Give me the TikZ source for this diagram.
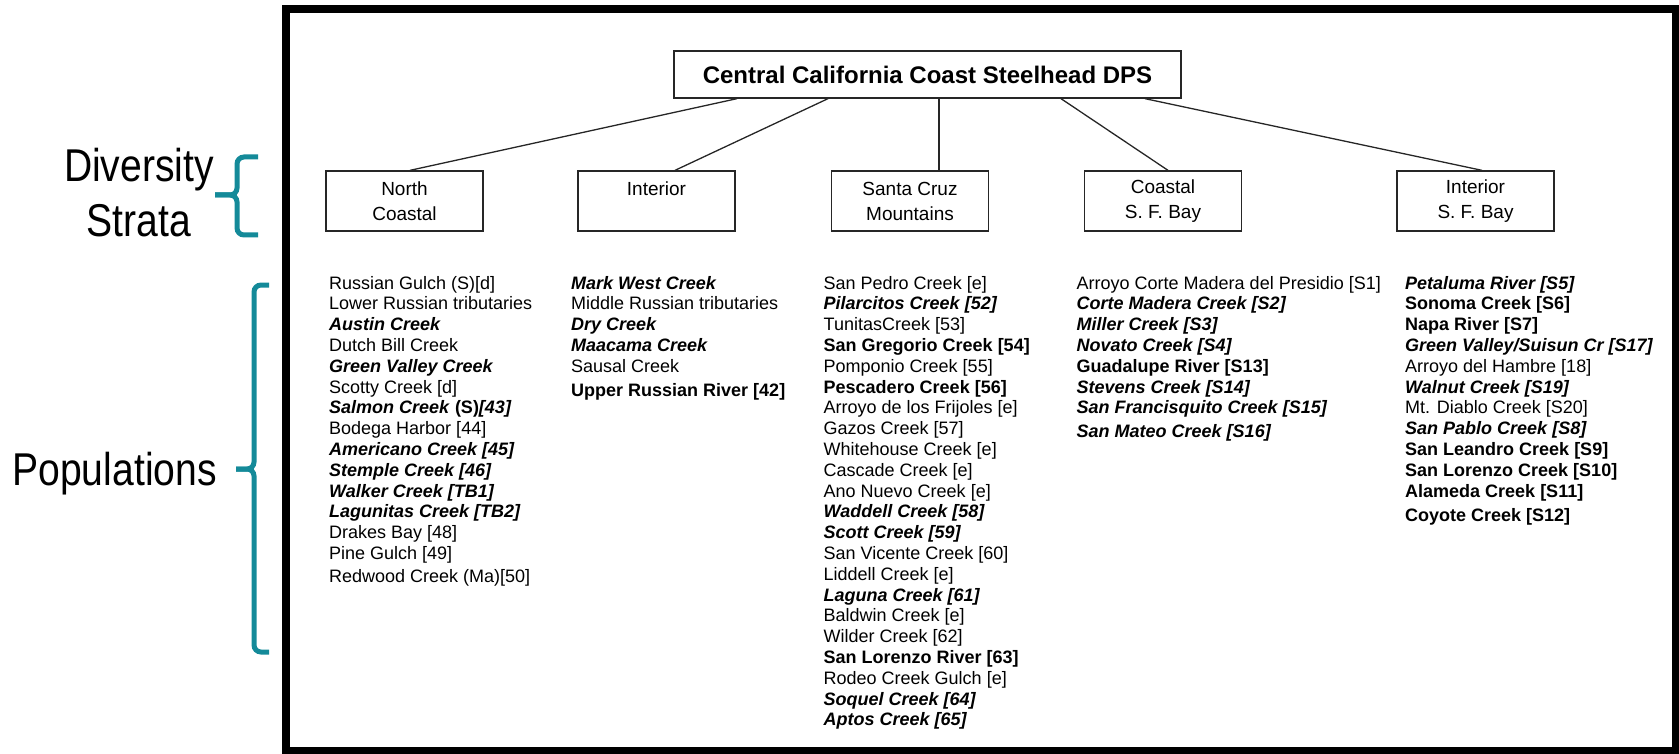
\documentclass[tikz,border=0pt]{standalone}
\usepackage{fontspec}
\setmainfont{Liberation Sans}
\newfontfamily\sidefont[FakeStretch=0.85]{Liberation Sans}
\usepackage{tikz}
\definecolor{braceTeal}{RGB}{20,138,153}
\newcommand{\bfit}[1]{\textbf{\textit{#1}}}

\begin{document}
\begin{tikzpicture}[x=1pt,y=-1pt,
		stratum/.style={draw=black!85,line width=1.3,minimum width=157,minimum height=60,inner sep=0,align=center,font=\fontsize{19}{25}\selectfont},
		link/.style={draw=black!85,line width=1.3},
		popname/.style={anchor=base west,inner sep=0,font=\fontsize{18}{20}\selectfont},
		sidelabel/.style={align=center,inner sep=0,font=\sidefont\fontsize{46}{55}\selectfont},
		tealbrace/.style={draw=braceTeal,line width=5,rounded corners=7}]
		%\draw[help lines,step=50] (0,0) grid (1679,754);
		\useasboundingbox (0,0) rectangle (1679,754);
		\draw[line width=7.5] (286,9) rectangle (1676,751);

		% the DPS and its strata
		\node[draw=black!85,line width=1.3,minimum width=507,minimum height=47,font=\fontsize{24}{28}\selectfont\bfseries] (dps) at (927.5,74.5) {Central California Coast Steelhead DPS};
		\node[stratum] (nc) at (404.5,201) {North\\Coastal};
		\node[stratum] (int) at (656.5,201) {Interior\\\mbox{}};
		\node[stratum] (scm) at (910,201) {Santa Cruz\\Mountains};
		\node[stratum] (csfb) at (1163,201) {Coastal\\S. F. Bay};
		\node[stratum] (isfb) at (1475.5,201) {Interior\\S. F. Bay};

		\draw[link] ([xshift=-190.5]dps.south) -- ([xshift=5.5]nc.north);
		\draw[link] ([xshift=-99.5]dps.south) -- ([xshift=18.5]int.north);
		\draw[link] ([xshift=11.5]dps.south) -- ([xshift=29]scm.north);
		\draw[link] ([xshift=133.5]dps.south) -- ([xshift=5]csfb.north);
		\draw[link] ([xshift=217.5]dps.south) -- ([xshift=6.5]isfb.north);

		% left labels
		\node[sidelabel] (strata) at (139,192.5) {Diversity\\Strata};
		\node[sidelabel] (pops) at (114.6,474) {Populations};
		\draw[tealbrace] (258,157) -- (237,157) -- (237,195) -- (215,195);
		\draw[tealbrace] (215,195) -- (237,195) -- (237,235) -- (258,235);
		\draw[tealbrace] (269,285) -- (254,285) -- (254,469) -- (236,469);
		\draw[tealbrace] (236,469) -- (254,469) -- (254,652) -- (269,652);

		% populations
		\foreach \p [count=\i from 0] in {{Russian Gulch (S)[d]},{Lower Russian tributaries},{\bfit{Austin Creek}},{Dutch Bill Creek},{\bfit{Green Valley Creek}},{Scotty Creek [d]},{\bfit{Salmon Creek} \textbf{(S)}\bfit{[43]}},{Bodega Harbor [44]},{\bfit{Americano Creek [45]}},{\bfit{Stemple Creek [46]}},{\bfit{Walker Creek [TB1]}},{\bfit{Lagunitas Creek [TB2]}},{Drakes Bay [48]},{Pine Gulch [49]}}
			\node[popname] (nc\i) at (329,{289+20.8*\i}) {\p};
		\node[popname] (nc14) at (329,582.5) {Redwood Creek (Ma)[50]};

		\foreach \p [count=\i from 0] in {{\bfit{Mark West Creek}},{Middle Russian tributaries},{\bfit{Dry Creek}},{\bfit{Maacama Creek}},{Sausal Creek}}
			\node[popname] (int\i) at (571,{289+20.8*\i}) {\p};
		\node[popname] (int5) at (571,396.5) {\textbf{Upper Russian River [42]}};

		\foreach \p [count=\i from 0] in {{San Pedro Creek [e]},{\bfit{Pilarcitos Creek [52]}},{TunitasCreek [53]},{\textbf{San Gregorio Creek [54]}},{Pomponio Creek [55]},{\textbf{Pescadero Creek [56]}},{Arroyo de los Frijoles [e]},{Gazos Creek [57]},{Whitehouse Creek [e]},{Cascade Creek [e]},{Ano Nuevo Creek [e]},{\bfit{Waddell Creek [58]}},{\bfit{Scott Creek [59]}},{San Vicente Creek [60]},{Liddell Creek [e]},{\bfit{Laguna Creek [61]}},{Baldwin Creek [e]},{Wilder Creek [62]},{\textbf{San Lorenzo River [63]}},{Rodeo Creek Gulch [e]},{\bfit{Soquel Creek [64]}},{\bfit{Aptos Creek [65]}}}
			\node[popname] (scm\i) at (823.5,{289+20.8*\i}) {\p};

		\foreach \p [count=\i from 0] in {{Arroyo Corte Madera del Presidio [S1]},{\bfit{Corte Madera Creek [S2]}},{\bfit{Miller Creek [S3]}},{\bfit{Novato Creek [S4]}},{\textbf{Guadalupe River [S13]}},{\bfit{Stevens Creek [S14]}},{\bfit{San Francisquito Creek [S15]}}}
			\node[popname] (csfb\i) at (1076.5,{289+20.8*\i}) {\p};
		\node[popname] (csfb7) at (1076.5,437) {\bfit{San Mateo Creek [S16]}};

		\foreach \p [count=\i from 0] in {{\bfit{Petaluma River [S5]}},{\textbf{Sonoma Creek [S6]}},{\textbf{Napa River [S7]}},{\bfit{Green Valley/Suisun Cr [S17]}},{Arroyo del Hambre [18]},{\bfit{Walnut Creek [S19]}},{Mt. Diablo Creek [S20]},{\bfit{San Pablo Creek [S8]}},{\textbf{San Leandro Creek [S9]}},{\textbf{San Lorenzo Creek [S10]}},{\textbf{Alameda Creek [S11]}}}
			\node[popname] (isfb\i) at (1405,{289+20.8*\i}) {\p};
		\node[popname] (isfb11) at (1405,521.5) {\textbf{Coyote Creek [S12]}};
\end{tikzpicture}
\end{document}
